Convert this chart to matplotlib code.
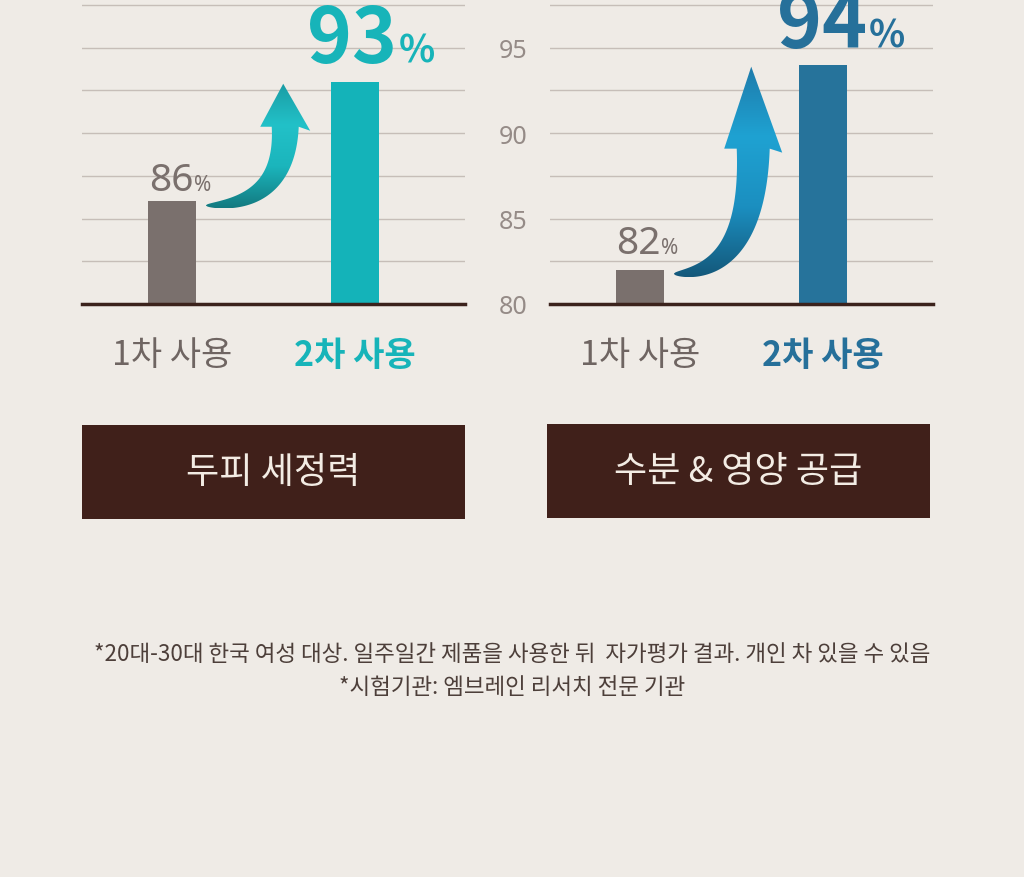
import numpy as np
import matplotlib.pyplot as plt
from matplotlib.patches import Polygon, Rectangle
from matplotlib.colors import LinearSegmentedColormap

plt.rcParams['font.family'] = ['Noto Sans CJK KR', 'DejaVu Sans']

# data
categories = ['1차 사용', '2차 사용']
scalp_clean = [86, 93]
moisture = [82, 94]
panel_titles = ['두피 세정력', '수분 & 영양 공급']
yticks = [80, 85, 90, 95]
footnotes = ['*20대-30대 한국 여성 대상. 일주일간 제품을 사용한 뒤  자가평가 결과. 개인 차 있을 수 있음',
             '*시험기관: 엠브레인 리서치 전문 기관']

BG = '#efebe6'
GRAY = '#7a706d'
NUMFONT = ['Noto Sans', 'DejaVu Sans']
BIGFONT = ['Noto Sans CJK KR', 'DejaVu Sans']
W, H = 1024, 878

fig = plt.figure(figsize=(W / 100, H / 100), dpi=100, facecolor=BG)


def draw_arrow(ax, bars, colors, head_len, head_w, body_w):
    # curved gradient arrow from the top of bar 1 up to bar 2
    b0, b1 = bars.patches
    tr = ax.transData
    tx, ty = tr.transform((b0.get_x() + b0.get_width(), b0.get_height()))
    px, py = tr.transform((b1.get_x(), b1.get_height()))
    tx += 10
    ty -= 4
    px -= 48
    py -= 2
    bx, by = px + 2, py - head_len
    cx, cy = bx, ty
    t = np.linspace(0, 1, 80)
    sx = (1 - t) ** 2 * tx + 2 * (1 - t) * t * cx + t ** 2 * bx
    sy = (1 - t) ** 2 * ty + 2 * (1 - t) * t * cy + t ** 2 * by
    dx = 2 * (1 - t) * (cx - tx) + 2 * t * (bx - cx)
    dy = 2 * (1 - t) * (cy - ty) + 2 * t * (by - cy)
    n = np.hypot(dx, dy)
    nx, ny = -dy / n, dx / n
    w = body_w * t ** 0.55 / 2
    right = np.column_stack([sx - nx * w, sy - ny * w])
    left = np.column_stack([sx + nx * w, sy + ny * w])
    head = np.array([[bx + head_w / 2, by - 4], [px, py], [bx - head_w / 2, by]])
    pts = np.vstack([right, head, left[::-1]])
    pts = tr.inverted().transform(pts)
    poly = Polygon(pts, closed=True, facecolor='none', edgecolor='none')
    ax.add_patch(poly)
    cmap = LinearSegmentedColormap.from_list('arr', colors)
    grad = np.linspace(0, 1, 256).reshape(-1, 1)
    im = ax.imshow(grad, extent=[pts[:, 0].min(), pts[:, 0].max(), pts[:, 1].min(), pts[:, 1].max()],
                   aspect='auto', cmap=cmap, origin='lower', zorder=3)
    im.set_clip_path(poly)


panels = [
    dict(vals=scalp_clean, left=82, color='#14b3b9', numc='#17b4b9',
         arrow=['#137a80', '#1bb5bc', '#22c1c8', '#1a9ca4'], head_len=43, head_w=50, body_w=27,
         small=(22, 11), big=(42, 20), ticks=False),
    dict(vals=moisture, left=550, color='#26739b', numc='#26709a',
         arrow=['#14587a', '#1b8fc0', '#1fa2d2', '#1e7bab'], head_len=82, head_w=58, body_w=33,
         small=(21, 17), big=(44, 18), ticks=True),
]

for p in panels:
    ax = fig.add_axes([p['left'] / W, 1 - 305 / H, 383 / W, 305 / H])
    ax.set_facecolor(BG)
    x = np.arange(len(categories))
    bars = ax.bar(x, p['vals'], width=0.26, color=[GRAY, p['color']], zorder=2)
    ax.set_xlim(-0.49, 1.6)
    ax.set_ylim(80, 97.84)
    ax.set_yticks(yticks)
    ax.set_yticks(np.arange(82.5, 98, 5), minor=True)
    ax.grid(which='both', axis='y', color='#c6beb8', lw=1)
    ax.set_axisbelow(True)
    for s in ['top', 'left', 'right']:
        ax.spines[s].set_visible(False)
    ax.spines['bottom'].set_color('#3b221c')
    ax.spines['bottom'].set_linewidth(2.5)
    ax.spines['bottom'].set_zorder(4)
    ax.tick_params(which='both', length=0)
    ax.tick_params(axis='y', labelsize=18, labelcolor='#958b87', pad=16, labelleft=p['ticks'])
    for t in ax.get_yticklabels():
        t.set_family(NUMFONT)
    ax.set_xticks(x, categories)
    ax.tick_params(axis='x', labelsize=24.5, pad=24)
    lbls = ax.get_xticklabels()
    lbls[0].set_color('#6f6562')
    lbls[1].set_color(p['numc'])
    lbls[1].set_fontweight('bold')

    # value labels
    v0, v1 = p['vals']
    ax.annotate(str(v0), (0, v0), xytext=p['small'], textcoords='offset pixels',
                ha='right', va='baseline', fontsize=28, color=GRAY, family=NUMFONT,
                annotation_clip=False)
    ax.annotate('%', (0, v0), xytext=(p['small'][0], p['small'][1]), textcoords='offset pixels',
                ha='left', va='baseline', fontsize=15, color=GRAY, family=NUMFONT,
                annotation_clip=False)
    ax.annotate(str(v1), (1, v1), xytext=p['big'], textcoords='offset pixels',
                ha='right', va='baseline', fontsize=55, fontweight='bold', color=p['numc'],
                family=BIGFONT, annotation_clip=False)
    ax.annotate('%', (1, v1), xytext=(p['big'][0] + 2, p['big'][1]), textcoords='offset pixels',
                ha='left', va='baseline', fontsize=27, fontweight='bold', color=p['numc'],
                family=BIGFONT, annotation_clip=False)

    draw_arrow(ax, bars, p['arrow'], p['head_len'], p['head_w'], p['body_w'])
    ax.set_xlim(-0.49, 1.6)
    ax.set_ylim(80, 97.84)

# title boxes below the charts
for title, bx, by in zip(panel_titles, [82, 547], [426, 425]):
    fig.add_artist(Rectangle((bx / W, 1 - (by + 94) / H), 383 / W, 94 / H,
                             transform=fig.transFigure, facecolor='#40201a', edgecolor='none'))
    fig.text((bx + 191.5) / W, 1 - (by + 47) / H, title, ha='center', va='center',
             fontsize=26, color='#f3ece4')

for i, line in enumerate(footnotes):
    fig.text(512 / W, 1 - (655 + 33 * i) / H, line, ha='center', va='center',
             fontsize=16.2, color='#4d3f3a')

fig.savefig('out.png', dpi=100, facecolor=BG)
